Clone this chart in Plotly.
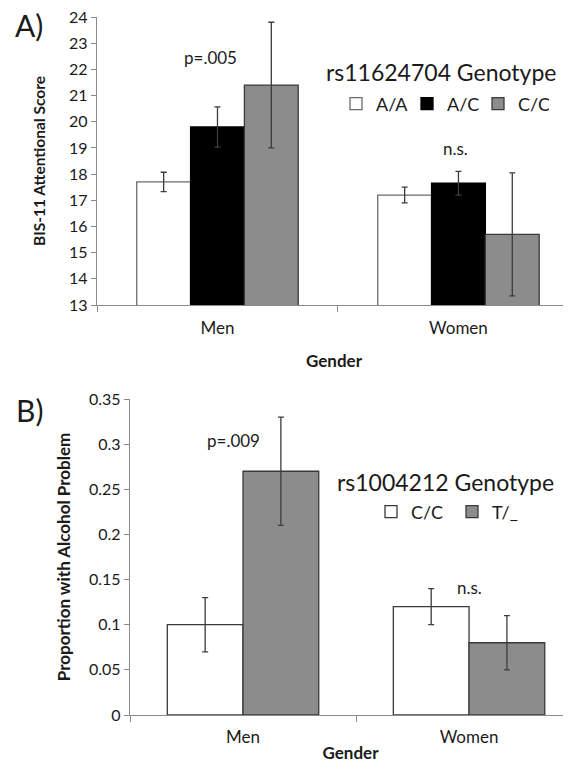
import plotly.graph_objects as go

# ---- Panel A data ----
genders = ["Men", "Women"]
geno_a = ["A/A", "A/C", "C/C"]
score_aa = [17.7, 17.2]
score_ac = [19.8, 17.65]
score_cc = [21.4, 15.7]
err_aa = [0.37, 0.3]
err_ac = [0.77, 0.45]
err_cc = [2.4, 2.35]

# ---- Panel B data ----
geno_b = ["C/C", "T/_"]
prop_cc = [0.10, 0.12]
prop_t = [0.27, 0.08]
perr_cc = [0.03, 0.02]
perr_t = [0.06, 0.03]

FONT = "Lato"
TXT = "#1a1a1a"
AX = "#8a8a8a"
OFF = 8  # page body margin
W, H = 571 - OFF, 775 - OFF


def px(v):
    return (v - OFF) / W


def py(v):
    return 1 - (v - OFF) / H


xpos = [0, 1]

fig = go.Figure()

styles_a = [
    ("white", "#6a6a6a"),
    ("black", "#000000"),
    ("#8c8c8c", "#3a3a3a"),
]
for name, vals, errs, (fc, lc) in zip(geno_a, [score_aa, score_ac, score_cc],
                                      [err_aa, err_ac, err_cc], styles_a):
    fig.add_trace(go.Bar(
        x=xpos, y=vals, name=name, xaxis="x", yaxis="y", legend="legend",
        marker=dict(color=fc, line=dict(color=lc, width=1.3)),
        error_y=dict(type="data", array=errs, color="#3c3c3c", thickness=1.3, width=3),
    ))

styles_b = [("white", "#3a3a3a"), ("#8c8c8c", "#3a3a3a")]
for name, vals, errs, (fc, lc) in zip(geno_b, [prop_cc, prop_t], [perr_cc, perr_t], styles_b):
    fig.add_trace(go.Bar(
        x=xpos, y=vals, name=name, xaxis="x2", yaxis="y2", legend="legend2",
        marker=dict(color=fc, line=dict(color=lc, width=1.3)),
        error_y=dict(type="data", array=errs, color="#3c3c3c", thickness=1.3, width=3),
    ))

axis_common = dict(showline=True, linecolor=AX, linewidth=1.3, showgrid=False,
                   zeroline=False, ticks="outside", tickcolor=AX, ticklen=5, tickwidth=1.3,
                   automargin=False, ticklabeloverflow="allow",
                   tickfont=dict(family=FONT, size=16, color=TXT))

xa_common = dict(axis_common)
xa_common.update(tickvals=xpos, ticktext=genders, ticks="",
                 tickfont=dict(family=FONT, size=17, color=TXT),
                 minor=dict(tickmode="array", tickvals=[-0.5, 0.5, 1.5], ticks="outside",
                            ticklen=6, tickcolor=AX, tickwidth=1.3))

fig.update_layout(
    template="none",
    width=W, height=H,
    margin=dict(l=0, r=0, t=0, b=0, pad=0, autoexpand=False),
    paper_bgcolor="white", plot_bgcolor="white",
    barmode="group",
    font=dict(family=FONT, color=TXT),
    xaxis=dict(xa_common, domain=[px(97), 1], range=[-0.5, 1.467], anchor="y",
               ticklabelstandoff=7,
               title=dict(text="<b>Gender</b>", font=dict(family=FONT, size=17, color=TXT), standoff=18)),
    yaxis=dict(axis_common, domain=[py(305), py(17)], range=[13, 24.0001], dtick=1,
               anchor="x",
               title=dict(text="<b>BIS-11 Attentional Score</b>", font=dict(family=FONT, size=15.5, color=TXT), standoff=19)),
    xaxis2=dict(xa_common, domain=[px(130), 1], range=[-0.5, 1.451], anchor="y2",
                ticklabelstandoff=6,
                title=dict(text="<b>Gender</b>", font=dict(family=FONT, size=17, color=TXT), standoff=1)),
    yaxis2=dict(axis_common, domain=[py(715), py(399)], range=[0, 0.35001], dtick=0.05,
                anchor="x2",
                title=dict(text="<b>Proportion with Alcohol Problem</b>", font=dict(family=FONT, size=17, color=TXT), standoff=14)),
    legend=dict(orientation="h", x=px(336), y=py(104), xanchor="left", yanchor="middle",
                font=dict(family=FONT, size=18, color=TXT), itemwidth=30,
                entrywidth=26, bgcolor="rgba(0,0,0,0)", traceorder="normal"),
    legend2=dict(orientation="h", x=px(371), y=py(512), xanchor="left", yanchor="middle",
                 font=dict(family=FONT, size=18, color=TXT), itemwidth=30,
                 entrywidth=36, bgcolor="rgba(0,0,0,0)", traceorder="normal"),
    bargap=0.33,
    bargroupgap=0,
    showlegend=True,
)

annots = [
    dict(text="A)", x=29, y=25, size=30),
    dict(text="B)", x=29, y=410, size=30),
    dict(text="p=.005", x=210, y=58, size=17),
    dict(text="n.s.", x=455, y=148, size=17),
    dict(text="rs11624704 Genotype", x=441, y=72, size=23),
    dict(text="p=.009", x=233, y=440, size=17),
    dict(text="n.s.", x=469, y=587, size=17),
    dict(text="rs1004212 Genotype", x=445, y=482, size=23),
]
for a in annots:
    fig.add_annotation(text=a["text"], x=px(a["x"]), y=py(a["y"]), xref="paper", yref="paper",
                       showarrow=False, xanchor="center", yanchor="middle",
                       font=dict(family=FONT, size=a["size"], color=TXT))

fig.write_html("out.html")
